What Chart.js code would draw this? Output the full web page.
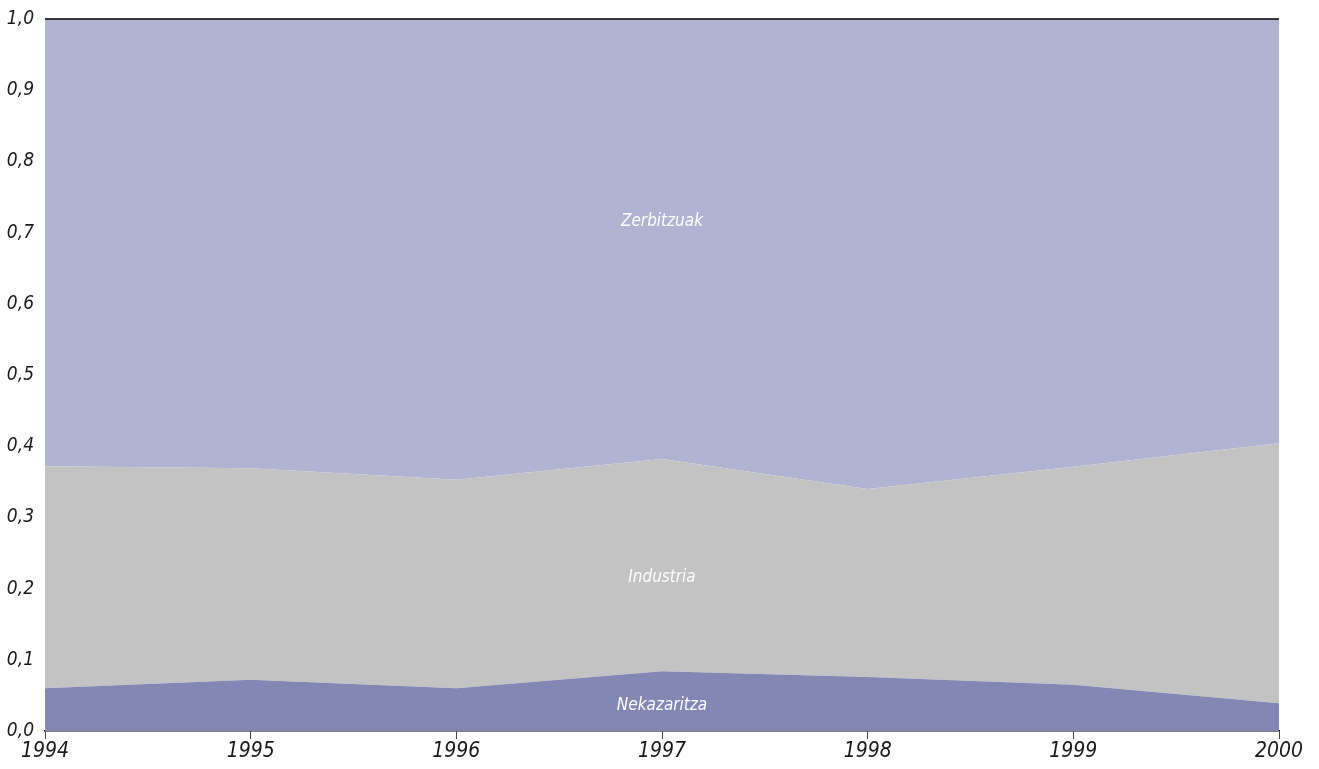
<!DOCTYPE html>
<html>
<head>
<meta charset="utf-8">
<script src="https://cdn.jsdelivr.net/npm/chart.js@4/dist/chart.umd.min.js"></script>
<style>
  html, body { margin: 0; padding: 0; background: #fff; }
  #wrap { width: 1319px; height: 769px; }
</style>
</head>
<body>
<div id="wrap"><canvas id="chart"></canvas></div>
<script>
var years = ['1994', '1995', '1996', '1997', '1998', '1999', '2000'];
var nekazaritza = [0.060, 0.072, 0.060, 0.084, 0.076, 0.065, 0.039];
var industria   = [0.312, 0.297, 0.293, 0.298, 0.264, 0.306, 0.365];
var zerbitzuak  = [0.628, 0.631, 0.647, 0.618, 0.660, 0.629, 0.596];

// area labels: [text, year, y value]
var areaLabels = [
    ['Zerbitzuak', '1997', 0.715],
    ['Industria', '1997', 0.216],
    ['Nekazaritza', '1997', 0.036]
];

var fontFamily = "'Liberation Sans Narrow', 'DejaVu Sans Condensed', 'Arial Narrow', sans-serif";

var frameLines = {
    id: 'frameLines',
    afterDatasetsDraw: function(chart) {
        var c = chart.ctx, a = chart.chartArea;
        c.save();
        c.strokeStyle = '#000';
        c.lineWidth = 1.5;
        c.beginPath();
        c.moveTo(a.left, a.top);
        c.lineTo(a.right, a.top);
        c.stroke();
        c.restore();
    }
};

var labelsPlugin = {
    id: 'areaLabels',
    afterDatasetsDraw: function(chart) {
        var c = chart.ctx;
        c.save();
        c.fillStyle = '#fff';
        c.font = 'italic 17px ' + fontFamily;
        c.textAlign = 'center';
        c.textBaseline = 'middle';
        areaLabels.forEach(function(l) {
            var x = chart.scales.x.getPixelForValue(years.indexOf(l[1]));
            var y = chart.scales.y.getPixelForValue(l[2]);
            c.fillText(l[0], x, y);
        });
        c.restore();
    }
};

var ctx = document.getElementById('chart').getContext('2d');
var myChart = new Chart(ctx, {
    type: 'line',
    data: {
        labels: years,
        datasets: [{
            label: 'Nekazaritza',
            data: nekazaritza,
            backgroundColor: '#8288b3',
            fill: 'origin'
        }, {
            label: 'Industria',
            data: industria,
            backgroundColor: '#c3c3c3',
            fill: '-1'
        }, {
            label: 'Zerbitzuak',
            data: zerbitzuak,
            backgroundColor: '#b0b4d2',
            fill: '-1'
        }]
    },
    options: {
        responsive: true,
        maintainAspectRatio: false,
        animation: false,
        elements: {
            line: { borderWidth: 0, tension: 0 },
            point: { radius: 0 }
        },
        layout: { padding: { left: 0, right: 40, top: 19, bottom: 0 } },
        plugins: {
            legend: { display: false },
            tooltip: { enabled: false }
        },
        scales: {
            x: {
                offset: false,
                border: { display: true, color: '#000', width: 1.5 },
                grid: { display: true, drawOnChartArea: false, drawTicks: true, tickLength: 8, color: '#444', tickWidth: 1 },
                ticks: {
                    color: '#1a1a1a',
                    padding: 0,
                    maxRotation: 0,
                    font: { family: fontFamily, size: 21, style: 'italic' }
                },
                afterFit: function(s) { s.height = 38; }
            },
            y: {
                stacked: true,
                min: 0,
                max: 1,
                border: { display: false },
                grid: { display: false },
                ticks: {
                    stepSize: 0.1,
                    color: '#1a1a1a',
                    padding: 3,
                    font: { family: fontFamily, size: 19, style: 'italic' },
                    callback: function(v) { return v.toFixed(1).replace('.', ','); }
                },
                afterFit: function(s) { s.width = 45; }
            }
        }
    },
    plugins: [frameLines, labelsPlugin]
});
</script>
</body>
</html>
